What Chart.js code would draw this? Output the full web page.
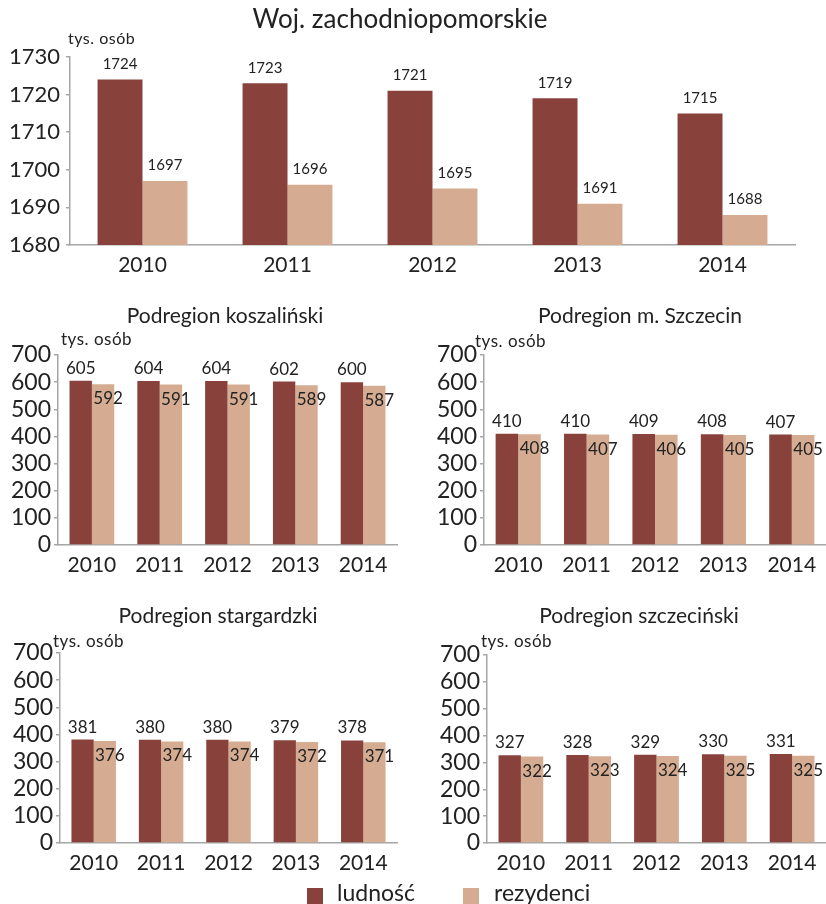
<!DOCTYPE html>
<html lang="pl">
<head>
<meta charset="utf-8">
<script src="https://cdn.jsdelivr.net/npm/chart.js@4.4.1/dist/chart.umd.min.js"></script>
<style>
  html, body { margin: 0; padding: 0; background: #fff; }
  body { width: 826px; height: 904px; position: relative; overflow: hidden; font-family: Lato, sans-serif; }
  .box { position: absolute; overflow: hidden; }
  .legend { position: absolute; top: 880px; left: 0; width: 826px; height: 24px; font-size: 23px; line-height: 24px; color: #222; }
  .legend span { position: absolute; top: 0; }
  .legend .sw { width: 16px; height: 16px; top: 8px; }
</style>
</head>
<body>
<div class="box" style="left:0;top:0;width:826px;height:280px"><canvas id="cMain"></canvas></div>
<div class="box" style="left:0;top:290px;width:413px;height:290px"><canvas id="cKosz"></canvas></div>
<div class="box" style="left:413px;top:290px;width:413px;height:290px"><canvas id="cSzcz"></canvas></div>
<div class="box" style="left:0;top:590px;width:413px;height:290px"><canvas id="cStarg"></canvas></div>
<div class="box" style="left:413px;top:590px;width:413px;height:290px"><canvas id="cSzczec"></canvas></div>
<div class="legend">
  <span class="sw" style="left:307px;background:#89413B"></span><span style="left:337px">ludność</span>
  <span class="sw" style="left:463px;background:#D5AB91"></span><span style="left:494px">rezydenci</span>
</div>
<script>
'use strict';
const years = ['2010', '2011', '2012', '2013', '2014'];
const seriesNames = ['ludność', 'rezydenci'];

const wojLudnosc = [1724, 1723, 1721, 1719, 1715];
const wojRezydenci = [1697, 1696, 1695, 1691, 1688];
const koszLudnosc = [605, 604, 604, 602, 600];
const koszRezydenci = [592, 591, 591, 589, 587];
const szczLudnosc = [410, 410, 409, 408, 407];
const szczRezydenci = [408, 407, 406, 405, 405];
const stargLudnosc = [381, 380, 380, 379, 378];
const stargRezydenci = [376, 374, 374, 372, 371];
const szczecLudnosc = [327, 328, 329, 330, 331];
const szczecRezydenci = [322, 323, 324, 325, 325];

const mainTicks = [1680, 1690, 1700, 1710, 1720, 1730];
const subTicks = [0, 100, 200, 300, 400, 500, 600, 700];

const RED = '#89413B';
const TAN = '#D5AB91';
const TEXT = '#222';
const AXIS = '#a6a6a6';
const FONT = 'Lato, sans-serif';

// draws title, unit label and bar values
const labelPlugin = {
    id: 'labels',
    afterDatasetsDraw(chart) {
        const o = chart.options.plugins.labels;
        const ctx = chart.ctx;
        ctx.save();
        ctx.fillStyle = TEXT;
        ctx.textBaseline = 'alphabetic';
        ctx.font = `${o.titleSize}px ${FONT}`;
        ctx.textAlign = 'center';
        ctx.fillText(o.title, o.titleX, o.titleY);
        ctx.font = `${o.unitSize}px ${FONT}`;
        ctx.textAlign = 'left';
        ctx.letterSpacing = '0.5px';
        ctx.fillText('tys. osób', o.unitX, o.unitY);
        ctx.letterSpacing = '0px';

        ctx.font = `${o.valueSize}px ${FONT}`;
        ctx.textAlign = 'center';
        chart.data.datasets.forEach((ds, i) => {
            chart.getDatasetMeta(i).data.forEach((bar, j) => {
                const v = ds.data[j];
                if (i === 0 || !o.inside) {
                    ctx.textBaseline = 'bottom';
                    ctx.fillText(v, bar.x, bar.y - o.gap);
                } else {
                    ctx.textBaseline = 'top';
                    ctx.fillText(v, bar.x + 5, bar.y + 6);
                }
            });
        });
        ctx.restore();
    }
};

function makeChart(id, a, b, ticks, layout, labels) {
    const ctx = document.getElementById(id);
    return new Chart(ctx, {
        type: 'bar',
        data: {
            labels: years,
            datasets: [
                { label: seriesNames[0], data: a, backgroundColor: RED },
                { label: seriesNames[1], data: b, backgroundColor: TAN }
            ]
        },
        options: {
            responsive: true,
            maintainAspectRatio: false,
            animation: false,
            layout: { padding: layout.padding },
            datasets: {
                bar: { barPercentage: 1, categoryPercentage: layout.catPct }
            },
            plugins: {
                legend: { display: false },
                tooltip: { enabled: false },
                title: { display: false },
                labels: labels
            },
            scales: {
                x: {
                    grid: { display: false },
                    border: { display: true, color: AXIS, width: 1.5 },
                    ticks: { color: TEXT, font: { family: FONT, size: 21 }, padding: 0, maxRotation: 0 },
                    afterFit(s) { s.height = layout.xHeight; }
                },
                y: {
                    min: ticks[0],
                    max: ticks[ticks.length - 1],
                    grid: { drawOnChartArea: false, drawTicks: true, tickLength: 4, color: AXIS, lineWidth: 1.5 },
                    border: { display: true, color: AXIS, width: 1.5 },
                    ticks: {
                        stepSize: ticks[1] - ticks[0],
                        autoSkip: false,
                        color: TEXT,
                        font: { family: FONT, size: layout.ySize },
                        padding: layout.yPad,
                        callback: v => String(v)
                    },
                    afterFit(s) { s.width = layout.yWidth; }
                }
            }
        },
        plugins: [labelPlugin]
    });
}

makeChart('cMain', wojLudnosc, wojRezydenci, mainTicks,
    { padding: { top: 57, right: 31, left: 0, bottom: 0 }, catPct: 0.62, xHeight: 35, yWidth: 70, yPad: 6, ySize: 22 },
    { title: 'Woj. zachodniopomorskie', titleSize: 26, titleX: 400, titleY: 28, unitSize: 16, unitX: 68, unitY: 44, valueSize: 15, gap: 8, inside: false });

makeChart('cKosz', koszLudnosc, koszRezydenci, subTicks,
    { padding: { top: 65, right: 16, left: 0, bottom: 0 }, catPct: 0.66, xHeight: 35, yWidth: 58, yPad: 3, ySize: 23 },
    { title: 'Podregion koszaliński', titleSize: 21, titleX: 225, titleY: 33, unitSize: 17, unitX: 61, unitY: 55, valueSize: 17, gap: 4, inside: true });

makeChart('cSzcz', szczLudnosc, szczRezydenci, subTicks,
    { padding: { top: 65, right: -9, left: 0, bottom: 0 }, catPct: 0.66, xHeight: 35, yWidth: 71, yPad: 3, ySize: 23 },
    { title: 'Podregion m. Szczecin', titleSize: 21, titleX: 227, titleY: 33, unitSize: 17, unitX: 62, unitY: 57, valueSize: 17, gap: 4, inside: true });

makeChart('cStarg', stargLudnosc, stargRezydenci, subTicks,
    { padding: { top: 63, right: 16, left: 0, bottom: 0 }, catPct: 0.66, xHeight: 37, yWidth: 60, yPad: 3, ySize: 23 },
    { title: 'Podregion stargardzki', titleSize: 21, titleX: 218, titleY: 33, unitSize: 17, unitX: 53, unitY: 57, valueSize: 17, gap: 4, inside: true });

makeChart('cSzczec', szczecLudnosc, szczecRezydenci, subTicks,
    { padding: { top: 65, right: -9, left: 0, bottom: 0 }, catPct: 0.66, xHeight: 37, yWidth: 74, yPad: 3, ySize: 23 },
    { title: 'Podregion szczeciński', titleSize: 21, titleX: 226, titleY: 33, unitSize: 17, unitX: 68, unitY: 57, valueSize: 17, gap: 4, inside: true });
</script>
</body>
</html>
